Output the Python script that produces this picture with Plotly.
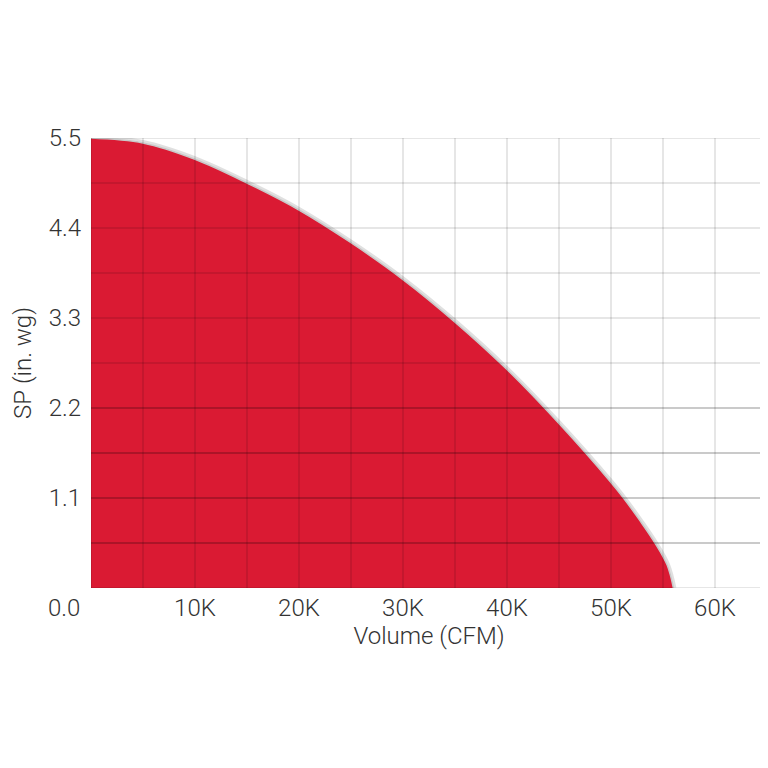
import plotly.graph_objects as go

# Fan curve data (Volume in CFM, static pressure in in. wg)
volume_cfm = [0, 5000, 10000, 15000, 20000, 25000, 30000, 35000, 40000, 45000,
              50000, 51200, 52800, 54230, 55400, 56000]
sp_in_wg = [5.5, 5.44, 5.24, 4.95, 4.62, 4.22, 3.77, 3.25, 2.67, 2.01,
            1.29, 1.1, 0.82, 0.55, 0.28, 0.0]

x_grid = list(range(0, 65001, 5000))
y_grid = [round(0.55 * i, 2) for i in range(11)]
x_tick_vals = [10000, 20000, 30000, 40000, 50000, 60000]
x_tick_text = ["10K", "20K", "30K", "40K", "50K", "60K"]
y_tick_vals = [1.1, 2.2, 3.3, 4.4, 5.5]
y_tick_text = ["1.1", "2.2", "3.3", "4.4", "5.5"]

RED = "#DA1A33"
TXT = "#333333"
FONT = dict(family="Roboto, 'Open Sans', sans-serif", size=24, color=TXT, weight=300)

fig = go.Figure()
# soft shadow under the curve edge
fig.add_trace(go.Scatter(x=volume_cfm, y=sp_in_wg, mode="lines",
                         line=dict(color="rgba(0,0,0,0.12)", width=6, shape="spline", smoothing=1.0),
                         hoverinfo="skip", showlegend=False))
fig.add_trace(go.Scatter(x=volume_cfm, y=sp_in_wg, mode="lines", fill="tozeroy",
                         fillcolor=RED,
                         line=dict(color="#C9C9C9", width=1.5, shape="spline", smoothing=1.0),
                         showlegend=False))

shapes = []
for xv in x_grid:
    shapes.append(dict(type="line", xref="x", yref="paper", x0=xv, x1=xv, y0=0, y1=1,
                       line=dict(color="rgba(0,0,0,0.2)", width=1), layer="above"))
for yv in y_grid:
    col = "rgba(0,0,0,0.42)" if 0 < yv <= 2.2 else "rgba(0,0,0,0.2)"
    shapes.append(dict(type="line", xref="paper", yref="y", x0=0, x1=1, y0=yv, y1=yv,
                       line=dict(color=col, width=1), layer="above"))

fig.update_layout(
    width=760, height=730,
    margin=dict(l=83, r=1, t=130, b=150, pad=0),
    paper_bgcolor="white", plot_bgcolor="white",
    font=FONT,
    shapes=shapes,
    xaxis=dict(range=[0, 65000], tickvals=x_tick_vals, ticktext=x_tick_text,
               showgrid=False, zeroline=False, showline=False, ticks="",
               ticklabelstandoff=3,
               title=dict(text="Volume (CFM)", font=FONT, standoff=2)),
    yaxis=dict(range=[0, 5.5], tickvals=y_tick_vals, ticktext=y_tick_text,
               showgrid=False, zeroline=False, showline=False, ticks="",
               ticklabelstandoff=9,
               title=dict(text="SP (in. wg)", font=FONT, standoff=10)),
    annotations=[dict(text="0.0", xref="paper", yref="paper", x=0, y=0,
                      xanchor="right", yanchor="top", xshift=-9, yshift=-4,
                      showarrow=False, font=FONT)],
)

fig.write_html("out.html")
